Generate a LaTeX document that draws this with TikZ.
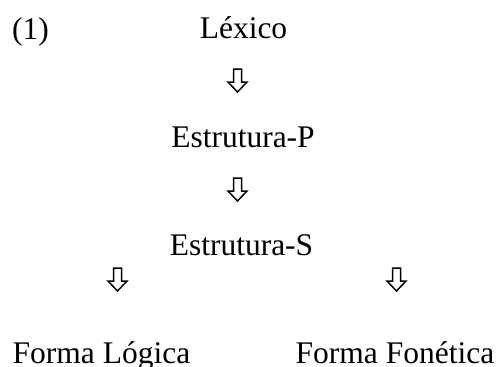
\documentclass[tikz,border=0pt]{standalone}
\usepackage{fontspec}
\setmainfont{Liberation Serif}
\begin{document}
\begin{tikzpicture}[x=1pt,y=1pt,
  lbl/.style={inner sep=0pt,anchor=base,font=\fontsize{31.5}{38}\selectfont},
  hollow/.style={draw=black,line width=1.5pt,fill=white,line join=miter}]
\useasboundingbox (0,0) rectangle (499,-367);
\node[lbl,anchor=base west] (num) at (12,-39) {(1)};
\node[lbl] (lex) at (243.5,-38) {Léxico};
\node[lbl] (ep) at (243,-147) {Estrutura-P};
\node[lbl] (es) at (241.5,-255) {Estrutura-S};
\node[lbl] (fl) at (101.5,-363.5) {Forma Lógica};
\node[lbl] (ff) at (395,-363.5) {Forma Fonética};
\newcommand{\harrow}[1]{%
  \draw[hollow] (#1) ++(-4,0) -- ++(8,0) -- ++(0,-13) -- ++(5.5,0)
    -- ++(-9.5,-10) -- ++(-9.5,10) -- ++(5.5,0) -- cycle;}
\coordinate (a1) at (237.5,-69);
\coordinate (a2) at (237.5,-178);
\coordinate (a3) at (117.5,-268);
\coordinate (a4) at (396.5,-268);
\harrow{a1}
\harrow{a2}
\harrow{a3}
\harrow{a4}
\end{tikzpicture}
\end{document}
